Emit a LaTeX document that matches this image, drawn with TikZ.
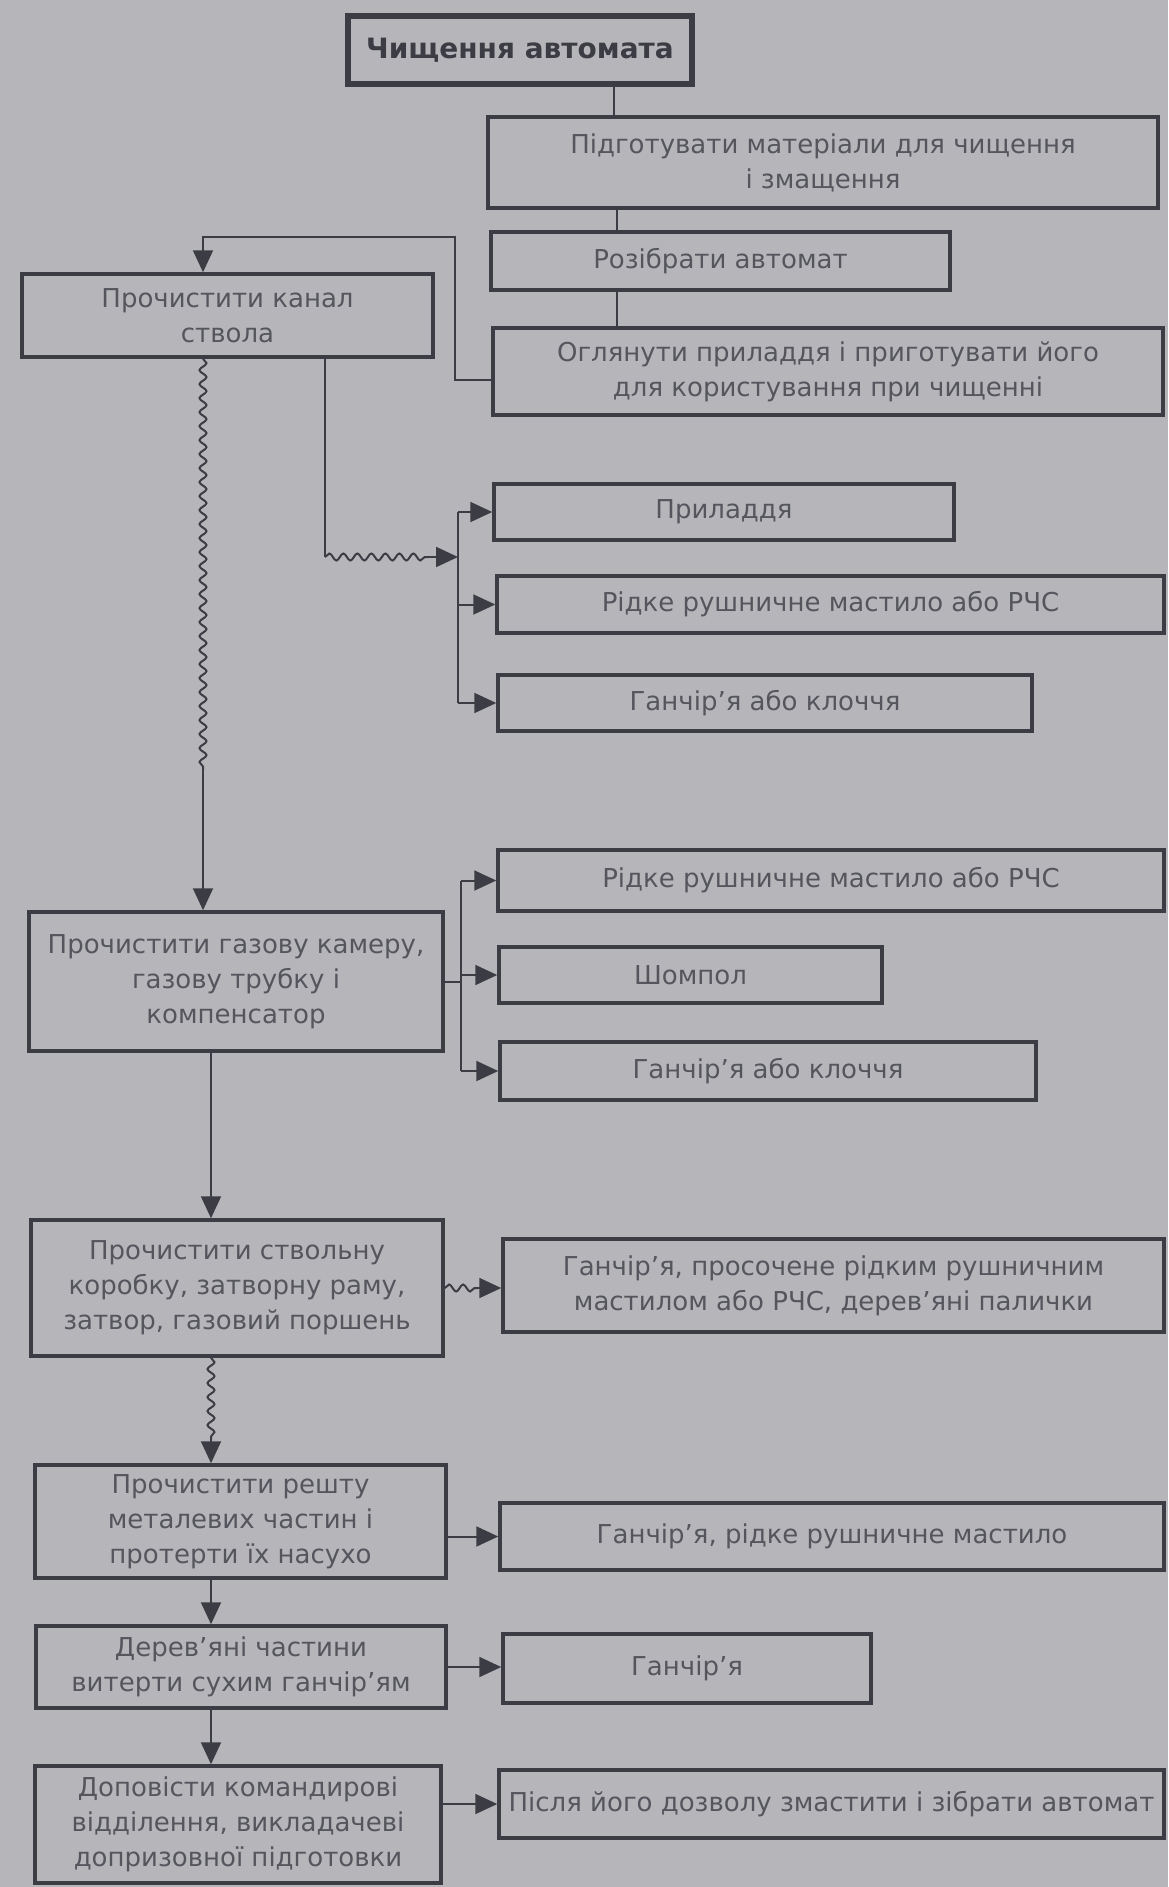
\documentclass[tikz,border=0pt]{standalone}
\usepackage{fontspec}
\setmainfont{DejaVu Sans}
\usetikzlibrary{arrows.meta,decorations.pathmorphing,calc}
\definecolor{paper}{HTML}{B6B6BA}
\definecolor{ink}{HTML}{3C3C44}
\definecolor{txt}{HTML}{55555D}
\tikzset{
 box/.style={draw=ink, line width=3.5pt, rectangle, align=center, text=txt, inner sep=2pt, font=\fontsize{26}{35}\selectfont},
 link/.style={draw=ink, line width=2pt},
 arr/.style={link, -{Triangle[length=22pt,width=20pt]}},
 wavy/.style={link, decorate, decoration={snake, amplitude=3.5pt, segment length=14pt}},
}
\begin{document}
\begin{tikzpicture}[x=1pt,y=-1pt]
\fill[paper] (0,0) rectangle (1168,1887);
\useasboundingbox (0,0) rectangle (1168,1887);
% nodes
\node[box, minimum width=344, minimum height=68, line width=6pt, font=\bfseries\fontsize{28}{32}\selectfont, text=ink] (t) at (520,50) {Чищення автомата};
\node[box, minimum width=670, minimum height=91] (b2) at (823,162.5) {Підготувати матеріали для чищення\\і змащення};
\node[box, minimum width=459, minimum height=58] (b3) at (720.5,261) {Розібрати автомат};
\node[box, minimum width=670, minimum height=87] (b4) at (828,371.5) {Оглянути приладдя і приготувати його\\для користування при чищенні};
\node[box, minimum width=411, minimum height=83] (b5) at (227.5,315.5) {Прочистити канал\\ствола};
\node[box, minimum width=460, minimum height=56] (b6) at (724,512) {Приладдя};
\node[box, minimum width=667, minimum height=57] (b7) at (830.5,604.5) {Рідке рушничне мастило або РЧС};
\node[box, minimum width=534, minimum height=56] (b8) at (765,703) {Ганчір’я або клоччя};
\node[box, minimum width=666, minimum height=61] (b9) at (831,880.5) {Рідке рушничне мастило або РЧС};
\node[box, minimum width=383, minimum height=56] (b10) at (690.5,975) {Шомпол};
\node[box, minimum width=536, minimum height=58] (b11) at (768,1071) {Ганчір’я або клоччя};
\node[box, minimum width=414, minimum height=139] (b12) at (236,981.5) {Прочистити газову камеру,\\газову трубку і\\компенсатор};
\node[box, minimum width=412, minimum height=136] (b13) at (237,1288) {Прочистити ствольну\\коробку, затворну раму,\\затвор, газовий поршень};
\node[box, minimum width=661, minimum height=93] (b14) at (833.5,1285.5) {Ганчір’я, просочене рідким рушничним\\мастилом або РЧС, дерев’яні палички};
\node[box, minimum width=411, minimum height=113] (b15) at (240.5,1521.5) {Прочистити решту\\металевих частин і\\протерти їх насухо};
\node[box, minimum width=664, minimum height=67] (b16) at (832,1536.5) {Ганчір’я, рідке рушничне мастило};
\node[box, minimum width=410, minimum height=82] (b17) at (241,1667) {Дерев’яні частини\\витерти сухим ганчір’ям};
\node[box, minimum width=368, minimum height=69] (b18) at (687,1668.5) {Ганчір’я};
\node[box, minimum width=406, minimum height=117] (b19) at (238,1824.5) {Доповісти командирові\\відділення, викладачеві\\допризовної підготовки};
\node[box, minimum width=665, minimum height=68] (b20) at (831.5,1804) {Після його дозволу змастити і зібрати автомат};
% helper coordinates
\coordinate (X1) at (614,0);
\coordinate (X2) at (617,0);
\coordinate (J0) at (0,380);
\coordinate (J1) at (455,237);
\coordinate (X5) at (203,0);
\coordinate (W1) at (203,770);
\coordinate (X6) at (325,0);
\coordinate (J2) at (325,557);
\coordinate (W2) at (428,557);
\coordinate (bus1) at (458,0);
\coordinate (bus2) at (461,0);
\coordinate (X8) at (211,0);
\coordinate (W3) at (211,1440);
\coordinate (W4) at (478,1288);
% connectors
\draw[link] (t.south -| X1) -- (b2.north -| X1);
\draw[link] (b2.south -| X2) -- (b3.north -| X2);
\draw[link] (b3.south -| X2) -- (b4.north -| X2);
\draw[arr] (b4.west |- J0) -| (J1) -| (b5.north -| X5);
\draw[wavy] (b5.south -| X5) -- (W1);
\draw[arr] (W1) -- (b12.north -| X5);
\draw[link] (b5.south -| X6) -- (J2);
\draw[wavy] (J2) -- (W2);
\draw[arr] (W2) -- (bus1 |- J2);
\draw[link] (bus1 |- b6.west) -- (bus1 |- b8.west);
\foreach \b in {b6,b7,b8} \draw[arr] (bus1 |- \b.west) -- (\b.west);
\draw[link] (b12.east) -- (bus2 |- b12.east);
\draw[link] (bus2 |- b9.west) -- (bus2 |- b11.west);
\foreach \b in {b9,b10,b11} \draw[arr] (bus2 |- \b.west) -- (\b.west);
\draw[arr] (b12.south -| X8) -- (b13.north -| X8);
\draw[wavy] (b13.east) -- (W4);
\draw[arr] (W4) -- (b14.west |- W4);
\draw[wavy] (b13.south -| X8) -- (W3);
\draw[arr] (W3) -- (b15.north -| X8);
\draw[arr] (b15.east |- b16.west) -- (b16.west);
\draw[arr] (b15.south -| X8) -- (b17.north -| X8);
\draw[arr] (b17.east) -- (b18.west |- b17.east);
\draw[arr] (b17.south -| X8) -- (b19.north -| X8);
\draw[arr] (b19.east |- b20.west) -- (b20.west);
\end{tikzpicture}
\end{document}
